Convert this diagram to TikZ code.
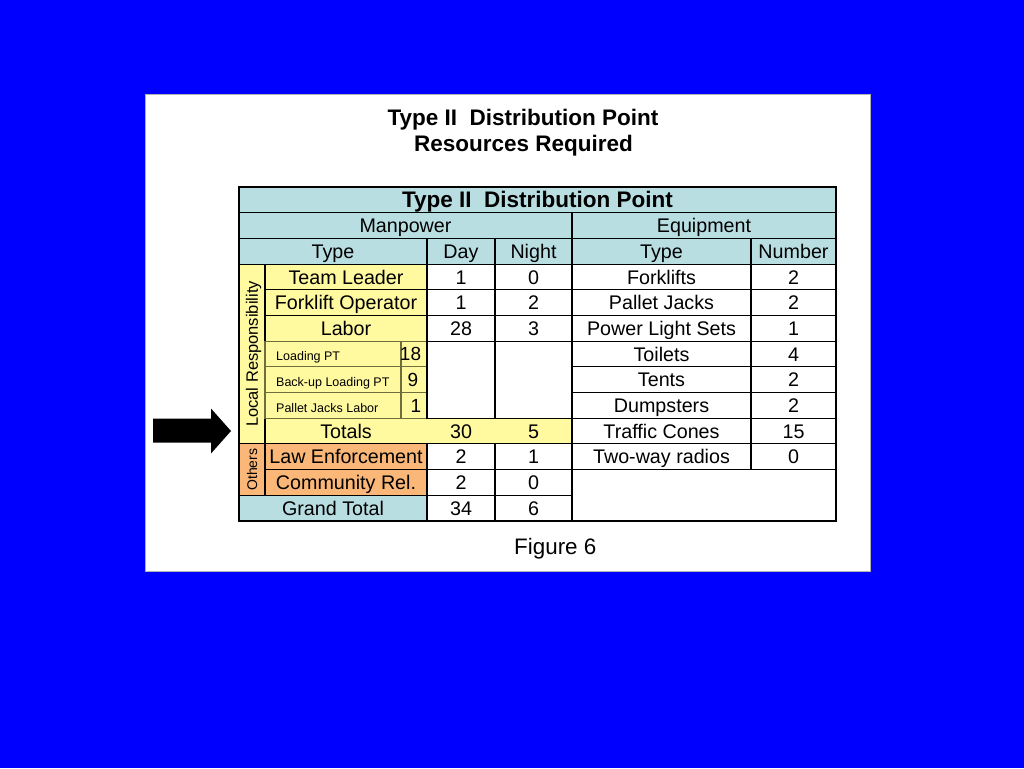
\documentclass[tikz,border=0pt]{standalone}
\usepackage{fontspec}
\setmainfont{Liberation Sans}
\definecolor{bgblue}{RGB}{0,0,255}
\definecolor{hdr}{RGB}{185,222,226}
\definecolor{yel}{RGB}{255,250,160}
\definecolor{org}{RGB}{250,183,120}
\definecolor{subline}{RGB}{110,110,60}
\newcommand{\tcell}[7]{%
  \node[#1, minimum width={(#5-#3)*1pt}, minimum height={(#6-#4)*1pt}] (#2) at ({(#3+#5)/2},{(#4+#6)/2}) {#7};}
\def\Xa{239}\def\Xb{265}\def\Xc{401}\def\Xd{427}\def\Xe{495}\def\Xf{572}\def\Xg{751}\def\Xh{836}
\def\Ya{187}\def\Yb{212.7}\def\Yc{238.4}\def\Yd{264.1}\def\Ye{289.8}\def\Yf{315.5}\def\Yg{341.2}
\def\Yh{366.8}\def\Yi{392.5}\def\Yj{418.2}\def\Yk{443.9}\def\Yl{469.6}\def\Ym{495.3}\def\Yn{521}
\begin{document}
\begin{tikzpicture}[x=1pt,y=-1pt,
  cellbase/.style={inner sep=0pt, outer sep=0pt, line width=1.1pt,
    text height=17.5pt, text depth=3.4pt, font=\fontsize{19.7}{23}\selectfont},
  hcell/.style={cellbase, draw=black, fill=hdr},
  wcell/.style={cellbase, draw=black, fill=white},
  ycell/.style={cellbase, draw=black, fill=yel},
  ocell/.style={cellbase, draw=black, fill=org},
  ynd/.style={cellbase, fill=yel},
  bcell/.style={hcell, text height=20pt, text depth=3.9pt, font=\fontsize{22.5}{26}\selectfont\bfseries},
  subcell/.style={cellbase, draw=subline, fill=yel},
  sublabel/.style={inner sep=0pt, anchor=west, text height=11pt, text depth=2.05pt, font=\fontsize{12.5}{14}\selectfont},
  subnum/.style={inner sep=0pt, text height=17pt, text depth=3.4pt, font=\fontsize{19}{22}\selectfont},
  vlabel/.style={inner sep=0pt, rotate=90},
  ttl/.style={inner sep=0pt, anchor=base, font=\fontsize{22.5}{26}\selectfont\bfseries},
]
\useasboundingbox (0,0) rectangle (1024,768);
\fill[bgblue] (0,0) rectangle (1024,768);
\filldraw[fill=white, draw=gray!60, line width=0.8pt] (145,94) rectangle (870,571);

% titles
\node[ttl] (title1) at (523,125.5) {Type II\ \ Distribution Point};
\node[ttl] (title2) at (523.5,151) {Resources Required};
\node[inner sep=0pt, anchor=base, font=\fontsize{22.4}{26}\selectfont] (fig) at (555.3,554.3) {Figure 6};

% totals row (no borders of its own)
\tcell{ynd}{totl}{\Xb}{\Yj}{\Xd}{\Yk}{Totals}
\tcell{ynd}{totd}{\Xd}{\Yj}{\Xe}{\Yk}{30}
\tcell{ynd}{totn}{\Xe}{\Yj}{\Xf}{\Yk}{5}

% header rows
\tcell{bcell}{head}{\Xa}{\Ya}{\Xh}{\Yb}{Type II\ \ Distribution Point}
\tcell{hcell}{manp}{\Xa}{\Yb}{\Xf}{\Yc}{Manpower}
\tcell{hcell}{equip}{\Xf}{\Yb}{\Xh}{\Yc}{Equipment}
\tcell{hcell}{htype}{\Xa}{\Yc}{\Xd}{\Yd}{Type}
\tcell{hcell}{hday}{\Xd}{\Yc}{\Xe}{\Yd}{Day}
\tcell{hcell}{hnight}{\Xe}{\Yc}{\Xf}{\Yd}{Night}
\tcell{hcell}{hetype}{\Xf}{\Yc}{\Xg}{\Yd}{Type}
\tcell{hcell}{hnum}{\Xg}{\Yc}{\Xh}{\Yd}{Number}

% local responsibility
\tcell{ycell}{locc}{\Xa}{\Yd}{\Xb}{\Yk}{}
\node[vlabel, text height=13pt, text depth=1.2pt, font=\fontsize{16.5}{19}\selectfont] (loclab) at (locc.center) {Local Responsibility};

\tcell{ycell}{tl}{\Xb}{\Yd}{\Xd}{\Ye}{Team Leader}
\tcell{wcell}{tld}{\Xd}{\Yd}{\Xe}{\Ye}{1}
\tcell{wcell}{tln}{\Xe}{\Yd}{\Xf}{\Ye}{0}
\tcell{ycell}{fo}{\Xb}{\Ye}{\Xd}{\Yf}{Forklift Operator}
\tcell{wcell}{fod}{\Xd}{\Ye}{\Xe}{\Yf}{1}
\tcell{wcell}{fon}{\Xe}{\Ye}{\Xf}{\Yf}{2}
\tcell{ycell}{lab}{\Xb}{\Yf}{\Xd}{\Yg}{Labor}
\tcell{wcell}{labd}{\Xd}{\Yf}{\Xe}{\Yg}{28}
\tcell{wcell}{labn}{\Xe}{\Yf}{\Xf}{\Yg}{3}

% sub rows
\tcell{subcell}{lpt}{\Xb}{\Yg}{\Xc}{\Yh}{}
\tcell{subcell}{lptn}{\Xc}{\Yg}{\Xd}{\Yh}{}
\tcell{subcell}{bpt}{\Xb}{\Yh}{\Xc}{\Yi}{}
\tcell{subcell}{bptn}{\Xc}{\Yh}{\Xd}{\Yi}{}
\tcell{subcell}{pjl}{\Xb}{\Yi}{\Xc}{\Yj}{}
\tcell{subcell}{pjln}{\Xc}{\Yi}{\Xd}{\Yj}{}
\node[sublabel] (lptl) at (276,{(\Yg+\Yh)/2+2.5}) {Loading PT};
\node[sublabel] (bptl) at (276,{(\Yh+\Yi)/2+2.5}) {Back-up Loading PT};
\node[sublabel] (pjll) at (276,{(\Yi+\Yj)/2+2.5}) {Pallet Jacks Labor};
\node[subnum] (lptv) at (410.5,{(\Yg+\Yh)/2}) {18};
\node[subnum] (bptv) at (413,{(\Yh+\Yi)/2}) {9};
\node[subnum] (pjlv) at (416,{(\Yi+\Yj)/2}) {1};
\tcell{wcell}{blkd}{\Xd}{\Yg}{\Xe}{\Yj}{}
\tcell{wcell}{blkn}{\Xe}{\Yg}{\Xf}{\Yj}{}

% others
\tcell{ocell}{oth}{\Xa}{\Yk}{\Xb}{\Ym}{}
\node[vlabel, text height=11pt, text depth=1pt, font=\fontsize{14}{16}\selectfont] (othlab) at (oth.center) {Others};
\tcell{ocell}{law}{\Xb}{\Yk}{\Xd}{\Yl}{Law Enforcement}
\tcell{wcell}{lawd}{\Xd}{\Yk}{\Xe}{\Yl}{2}
\tcell{wcell}{lawn}{\Xe}{\Yk}{\Xf}{\Yl}{1}
\tcell{ocell}{com}{\Xb}{\Yl}{\Xd}{\Ym}{Community Rel.}
\tcell{wcell}{comd}{\Xd}{\Yl}{\Xe}{\Ym}{2}
\tcell{wcell}{comn}{\Xe}{\Yl}{\Xf}{\Ym}{0}
\tcell{hcell}{gt}{\Xa}{\Ym}{\Xd}{\Yn}{Grand Total}
\tcell{wcell}{gtd}{\Xd}{\Ym}{\Xe}{\Yn}{34}
\tcell{wcell}{gtn}{\Xe}{\Ym}{\Xf}{\Yn}{6}

% equipment
\tcell{wcell}{e1}{\Xf}{\Yd}{\Xg}{\Ye}{Forklifts}
\tcell{wcell}{e1n}{\Xg}{\Yd}{\Xh}{\Ye}{2}
\tcell{wcell}{e2}{\Xf}{\Ye}{\Xg}{\Yf}{Pallet Jacks}
\tcell{wcell}{e2n}{\Xg}{\Ye}{\Xh}{\Yf}{2}
\tcell{wcell}{e3}{\Xf}{\Yf}{\Xg}{\Yg}{Power Light Sets}
\tcell{wcell}{e3n}{\Xg}{\Yf}{\Xh}{\Yg}{1}
\tcell{wcell}{e4}{\Xf}{\Yg}{\Xg}{\Yh}{Toilets}
\tcell{wcell}{e4n}{\Xg}{\Yg}{\Xh}{\Yh}{4}
\tcell{wcell}{e5}{\Xf}{\Yh}{\Xg}{\Yi}{Tents}
\tcell{wcell}{e5n}{\Xg}{\Yh}{\Xh}{\Yi}{2}
\tcell{wcell}{e6}{\Xf}{\Yi}{\Xg}{\Yj}{Dumpsters}
\tcell{wcell}{e6n}{\Xg}{\Yi}{\Xh}{\Yj}{2}
\tcell{wcell}{e7}{\Xf}{\Yj}{\Xg}{\Yk}{Traffic Cones}
\tcell{wcell}{e7n}{\Xg}{\Yj}{\Xh}{\Yk}{15}
\tcell{wcell}{e8}{\Xf}{\Yk}{\Xg}{\Yl}{Two-way radios}
\tcell{wcell}{e8n}{\Xg}{\Yk}{\Xh}{\Yl}{0}
\tcell{wcell}{eblank}{\Xf}{\Yl}{\Xh}{\Yn}{}

% arrow
\fill[black] (153,418.5) -- (211,418.5) -- (211,408.5) -- (231,431) -- (211,453.5) -- (211,442.5) -- (153,442.5) -- cycle;
\end{tikzpicture}
\end{document}
